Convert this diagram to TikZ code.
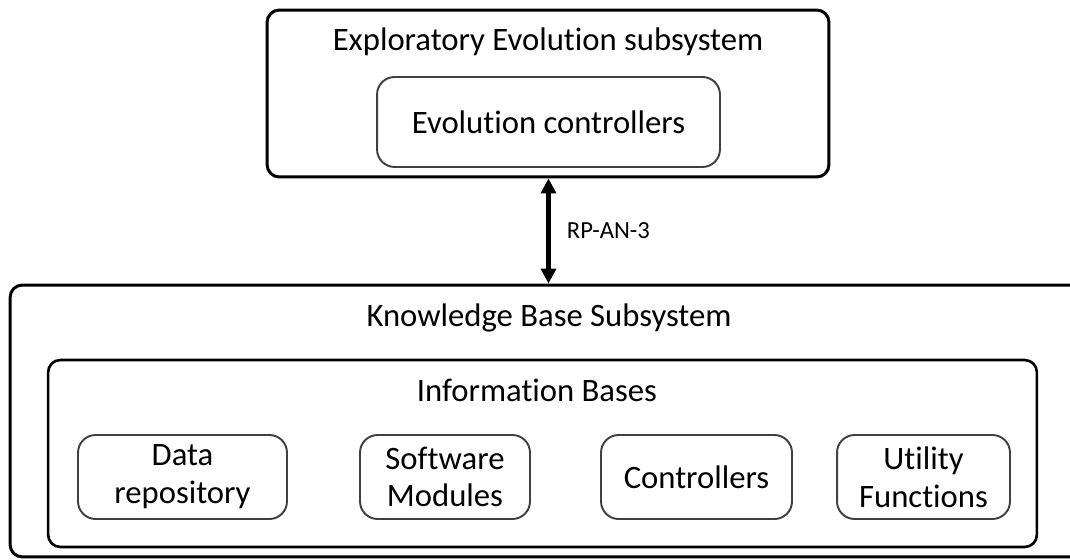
\documentclass[tikz,border=0pt]{standalone}
\usepackage{fontspec}
\setmainfont{Carlito}[Ligatures=NoCommon]
\usepackage{tikz}
\usetikzlibrary{positioning,arrows.meta}

\begin{document}
\begin{tikzpicture}[
    x=0.02cm, y=-0.02cm,
    bigbox/.style={rectangle, draw, line width=1.7pt, rounded corners=7pt},
    box/.style={rectangle, draw=black!75, line width=1.1pt, rounded corners=10pt, align=center, font=\fontsize{18.6}{21.5}\selectfont},
    title/.style={font=\fontsize{18.6}{21.5}\selectfont},
    arrow/.style={{Triangle[length=3mm,width=3mm]}-{Triangle[length=3mm,width=3mm]}, line width=2.3pt},
    label/.style={font=\fontsize{14}{16}\selectfont}
]
\clip (0,0) rectangle (1070,560);

% Exploratory Evolution subsystem
\node[bigbox, minimum width=11.24cm, minimum height=3.34cm] (topsys) at (548,93.5) {};
\node[title] (toptitle) at (548,42) {Exploratory Evolution subsystem};
\node[box, minimum width=6.86cm, minimum height=1.8cm] (evoctrl) at (548.5,122) {Evolution controllers};

% Knowledge Base Subsystem
\node[bigbox, minimum width=21.52cm, minimum height=5.44cm] (kbsys) at (548,421) {};
\node[title] (kbtitle) at (549,318) {Knowledge Base Subsystem};

% Information Bases
\node[bigbox, line width=1.5pt, minimum width=19.78cm, minimum height=3.74cm] (infobases) at (542.5,453.5) {};
\node[title] (ibtitle) at (537,390) {Information Bases};

% Information base parts
\node[box, minimum width=4.18cm, minimum height=1.68cm] (datarepo) at (182.5,477) {Data\\repository};
\node[box, minimum width=3.4cm, minimum height=1.68cm] (swmod) at (445,477) {Software\\Modules};
\node[box, minimum width=3.82cm, minimum height=1.68cm] (ctrl) at (696.5,477) {Controllers};
\node[box, minimum width=3.46cm, minimum height=1.68cm] (utilfn) at (923.5,477) {Utility\\Functions};

% Interface
\coordinate (ifup) at (topsys.south -| evoctrl);
\coordinate (ifdown) at (kbsys.north -| evoctrl);
\draw[arrow] (ifup) -- (ifdown) node[midway, right=6pt, label] {RP-AN-3};

\end{tikzpicture}
\end{document}
